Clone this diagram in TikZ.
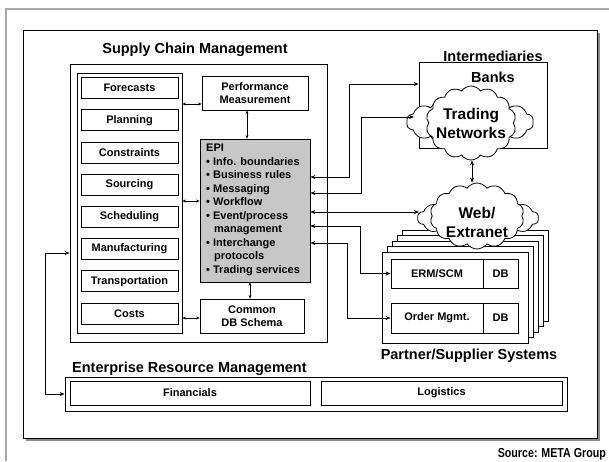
\documentclass[tikz,border=0pt]{standalone}
\usepackage{fontspec}
\setmainfont{Liberation Sans}
\usetikzlibrary{arrows.meta,shapes.symbols,calc}

\tikzset{
  box/.style={draw,line width=0.8pt,fill=white,inner sep=0pt,align=center,
    font=\bfseries\fontsize{11}{13}\selectfont},
  item/.style={box,minimum width=97pt,minimum height=21pt},
  head/.style={inner sep=0pt,font=\bfseries\fontsize{14.5}{16}\selectfont},
  puff/.style={cloud,cloud puffs=14,cloud puff arc=110,cloud ignores aspect,draw,fill=white,
    line width=0.8pt,inner sep=0pt},
  link/.style={line width=0.8pt,{Stealth[length=5pt,width=4pt]}-{Stealth[length=5pt,width=4pt]}},
  tiny/.style={line width=0.6pt,{Stealth[length=3.5pt,width=3pt]}-{Stealth[length=3.5pt,width=3pt]}}
}

\begin{document}
\begin{tikzpicture}[x=1pt,y=-1pt]
\useasboundingbox (0,0) rectangle (609,461);
% page edge and frame
\draw[gray!70,line width=1.2pt] (6,461)--(6,9)--(609,9);
\fill[black!45] (26,33) rectangle (600,441);
\draw[line width=1pt,fill=white] (23,30) rectangle (597,438);

% supply chain management
\node[head] (scmlab) at (195,50) {Supply Chain Management};
\node[box,minimum width=257pt,minimum height=278pt] (scm) at (198.5,203) {};
\node[box,minimum width=105pt,minimum height=260pt] (col) at (129.5,203) {};
\foreach \name/\lab [count=\i from 0] in {fc/Forecasts,pl/Planning,co/Constraints,
    so/Sourcing,sc/Scheduling,ma/Manufacturing,tr/Transportation,cs/Costs}
  \node[item] (\name) at (129.5,{88+32.2*\i}) {\lab};
\node[box,minimum width=106pt,minimum height=34pt] (perf) at (255,93) {Performance\\Measurement};
\node[box,fill=black!22,minimum width=110pt,minimum height=143pt] (epi) at (255,210.5) {};
\node[anchor=north west,inner sep=0pt,align=left,
  font=\bfseries\fontsize{11}{13.5}\selectfont] (epitxt) at (206,144)
  {EPI\\
   \textbullet{} Info. boundaries\\
   \textbullet{} Business rules\\
   \textbullet{} Messaging\\
   \textbullet{} Workflow\\
   \textbullet{} Event/process\\
   \hspace*{8pt}management\\
   \textbullet{} Interchange\\
   \hspace*{8pt}protocols\\
   \textbullet{} Trading services};
\node[box,minimum width=104pt,minimum height=34pt] (db) at (252,316) {Common\\DB Schema};

\draw[tiny] (col.east |- 0,104) -- (perf.west |- 0,104);
\draw[tiny] (col.east |- 0,201) -- (epi.west |- 0,201);
\draw[tiny] (col.east |- 0,318) -- (db.west |- 0,318);
\draw[tiny] (perf.south -| 247,0) -- (epi.north -| 247,0);
\draw[tiny] (epi.south -| 250,0) -- (db.north -| 250,0);

% intermediaries
\node[head] (intlab) at (493,56) {Intermediaries};
\node[box,minimum width=128pt,minimum height=86pt] (banks) at (483,105) {};
\node[head] (bankslab) at (493,77) {Banks};
\node[puff,minimum width=127pt,minimum height=50pt] (tnback) at (470,122) {};
\node[puff,minimum width=90pt,minimum height=74pt] (tn) at (471,123) {};
\node[align=center,inner sep=0pt,font=\bfseries\fontsize{15.5}{19}\selectfont] (tntxt) at (471,123) {Trading\\Networks};

% partner / supplier systems
\foreach \k in {4,3,2,1}
  \draw[line width=0.8pt,fill=white] ({382+5*\k},{252-5.5*\k}) rectangle ({528+5*\k},{343-5.5*\k});
\node[box,minimum width=146pt,minimum height=91pt] (ps) at (455,297.5) {};
\node[box,minimum width=92pt,minimum height=29pt] (erm) at (437,273.5) {ERM/SCM};
\node[box,minimum width=35pt,minimum height=29pt] (ermdb) at (500.5,273.5) {DB};
\node[box,minimum width=92pt,minimum height=30pt] (ord) at (437,318) {Order Mgmt.};
\node[box,minimum width=35pt,minimum height=30pt] (orddb) at (500.5,318) {DB};
\node[head] (pslab) at (469,356) {Partner/Supplier Systems};

\node[puff,minimum width=121pt,minimum height=42pt] (webback) at (478,218) {};
\node[puff,minimum width=94pt,minimum height=66pt] (web) at (477,216) {};
\node[align=center,inner sep=0pt,font=\bfseries\fontsize{15.5}{19}\selectfont] (webtxt) at (477,222) {Web/\\Extranet};
\draw[link] (tn.south -| 472,0) -- (web.north -| 472,0);

% connectors from EPI
\draw[link] (epi.east |- 0,177) -| (349,84) -- (banks.west |- 0,84);
\draw[link] (epi.east |- 0,193) -| (361,117) -- (414,117);
\draw[link] (epi.east |- 0,212) -- (419,212);
\draw[link] (epi.east |- 0,226) -| ($(erm.west)+(-30,0)$) -- (erm.west);
\draw[link] (epi.east |- 0,243) -| ($(ord.west)+(-43,0)$) -- (ord.west);

% enterprise resource management
\node[head,anchor=west] (erplab) at (72,369) {Enterprise Resource Management};
\node[box,minimum width=502pt,minimum height=34pt] (erp) at (316,394) {};
\node[box,minimum width=240pt,minimum height=24pt] (fin) at (190,393) {Financials};
\node[box,minimum width=241pt,minimum height=24pt] (log) at (441.5,393) {Logistics};
\draw[link] (scm.west |- 0,253) -- (45,253) |- (erp.west);

\node[anchor=east,inner sep=0pt,xscale=0.82,font=\bfseries\fontsize{13}{14}\selectfont] (src) at (606,454) {Source: META Group};
\end{tikzpicture}
\end{document}
